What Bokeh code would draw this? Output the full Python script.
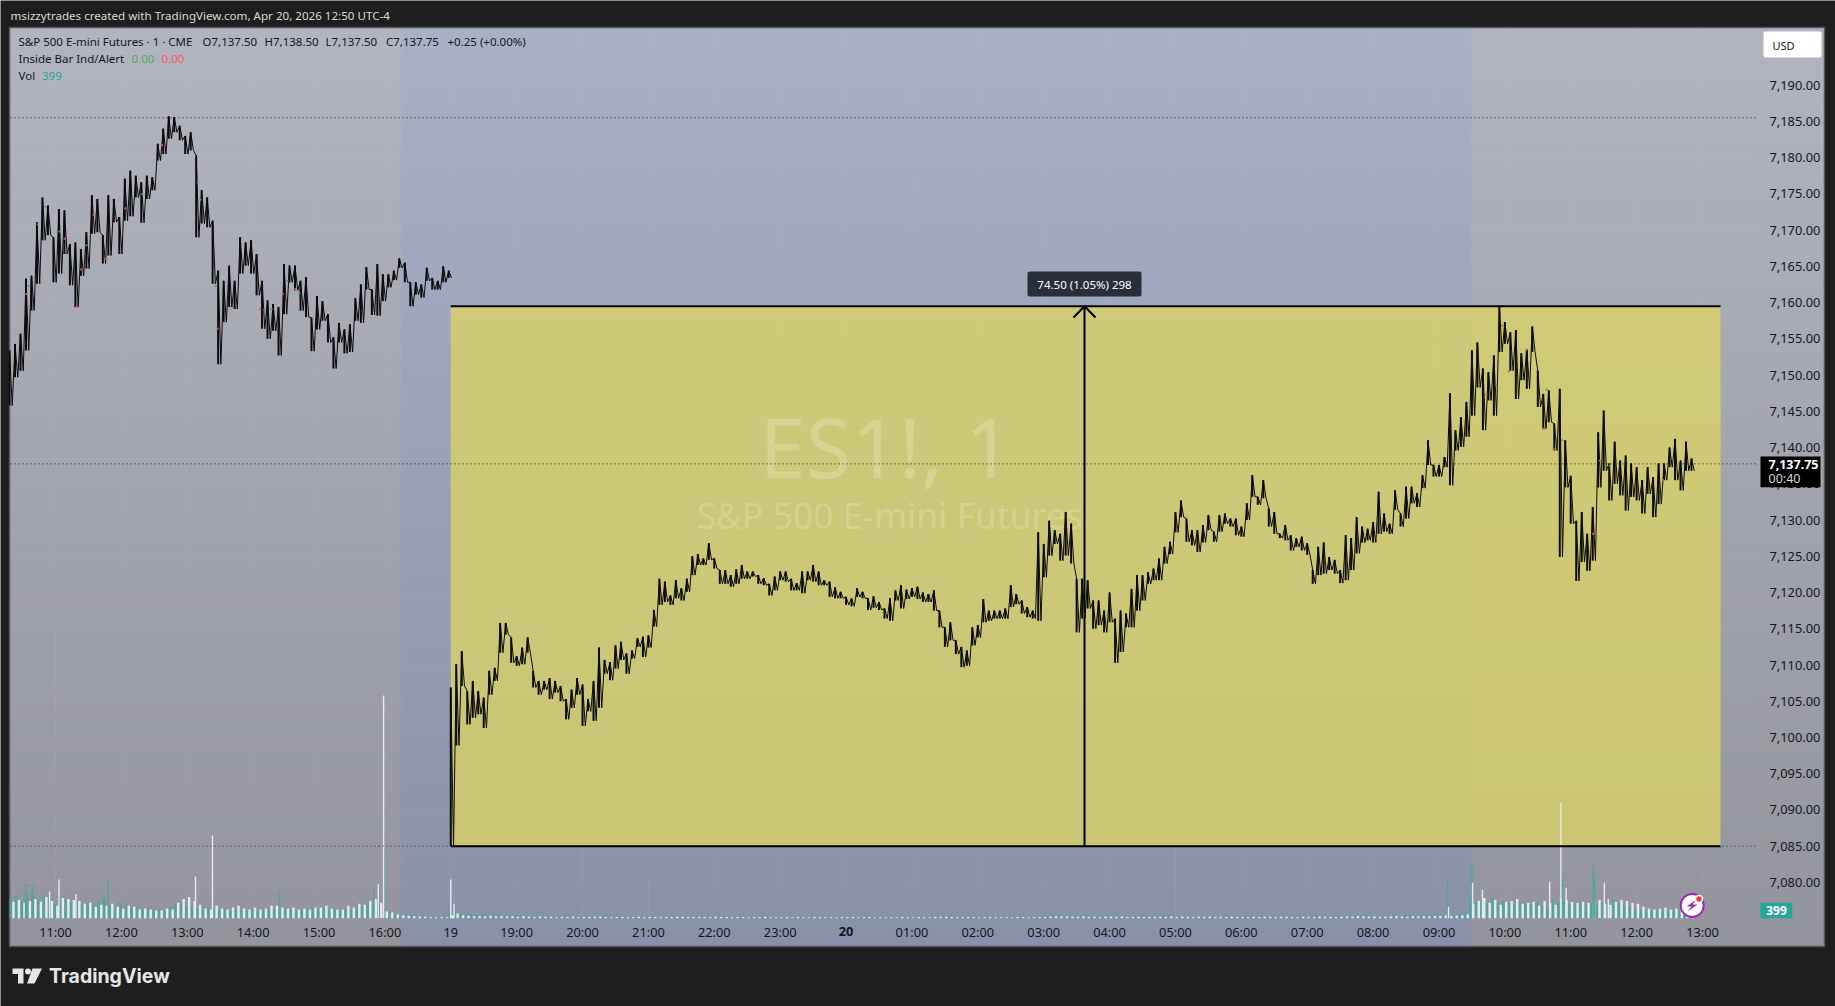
import numpy as np
from bokeh.plotting import figure
from bokeh.models import Range1d, LinearAxis, FixedTicker, NumeralTickFormatter
from bokeh.core.properties import value
from bokeh.embed import file_html
from bokeh.resources import INLINE

# ---------- data ----------
price_ticks = [7080 + 5 * k for k in range(23)]
time_ticks = [0, 1, 2, 3, 4, 5, 6, 7, 8, 9, 10, 11, 13, 14, 15, 16, 17, 18, 19, 20, 21, 22, 23, 24, 25]
time_labels = ["11:00", "12:00", "13:00", "14:00", "15:00", "16:00", "19", "19:00", "20:00", "21:00", "22:00", "23:00",
               "01:00", "02:00", "03:00", "04:00", "05:00", "06:00", "07:00", "08:00", "09:00", "10:00", "11:00", "12:00", "13:00"]

high_prev = [7153.4, 7154.3, 7155.7, 7163.3, 7163.7, 7171.1, 7174.5, 7173.4, 7169, 7172.9, 7172.7, 7168.1, 7168.3, 7167.4, 7169.7, 7174.8, 7174.3, 7169.3, 7174.8, 7174.3, 7171.8, 7177.1, 7178.2, 7177.5, 7176.6, 7177.5, 7177.3, 7181.9, 7184, 7185.7, 7185.6, 7184.4, 7183, 7183.5, 7180.3, 7175.5, 7174.5, 7171.3, 7164.4, 7163, 7165.1, 7163, 7169, 7168.3, 7168.6, 7166.7, 7163, 7160.3, 7159.8, 7159.4, 7165.3, 7165.1, 7165.1, 7163, 7163.5,
             7157.9, 7160.9, 7160.2, 7158.4, 7155.2, 7157.2, 7156.3, 7157, 7160.6, 7162.5, 7164.9, 7161.8, 7165.3, 7163.9, 7163.9, 7164.4, 7166.1, 7165.5, 7162.8, 7162.8, 7162.5, 7164.8, 7163.4, 7163, 7165, 7164.4]
low_prev = [7145.8, 7149.7, 7150.6, 7153.4, 7158.9, 7162.6, 7168.6, 7169.3, 7162.8, 7164, 7166.7, 7162.4, 7159.4, 7163.7, 7164.7, 7169.5, 7169.7, 7165.4, 7166.5, 7171.1, 7166.7, 7171.3, 7171.9, 7174.5, 7171, 7174.3, 7175.5, 7179.6, 7180.5, 7182.6, 7183.5, 7182.4, 7180.5, 7181, 7169, 7170.9, 7170.4, 7162.6, 7151.5, 7157.3, 7159.4, 7159.1, 7164, 7165.1, 7164, 7161, 7156.4, 7155, 7156.1, 7152.7, 7158.4, 7162.8, 7161.7, 7158.9, 7158,
            7153.3, 7156.3, 7157.5, 7154.5, 7150.9, 7154.5, 7153, 7153.2, 7157.5, 7157.2, 7161.8, 7158.3, 7158.2, 7160.2, 7162.1, 7163.1, 7164.8, 7162.8, 7159.5, 7161.1, 7160.7, 7163, 7161.8, 7161.8, 7162.8, 7163.4]
high_next = [7106.9, 7110.1, 7111.9, 7106.4, 7107.8, 7106.4, 7105.5, 7109.2, 7109.6, 7115.8, 7115.8, 7113.8, 7111.2, 7112.4, 7113.8, 7109.2, 7107.8, 7107.8, 7108.2, 7107.8, 7107.1, 7105.3, 7106.6, 7108.2, 7107.3, 7105.3, 7107.8, 7112.4,
             7110.7, 7110.4, 7112.7, 7113.2, 7111.6, 7112, 7113.7, 7113.9, 7114.1, 7117.6, 7121.9, 7121.5, 7119.6, 7121.7, 7120.6, 7121.9, 7125, 7125.3, 7124.7, 7126.8, 7124.7, 7123.1, 7123.1, 7122.4, 7123.2, 7123.8, 7122.9, 7122.9, 7122.4, 7122, 7121.2, 7122.2, 7122.9, 7122.9, 7121.9, 7121.3, 7122.9, 7122.9, 7123.8, 7122.9, 7121.7, 7121.5, 7120.7, 7120.1, 7119.4, 7119.2, 7120.6, 7120.1, 7119.2, 7119.5, 7118.7, 7117.8, 7119.2, 7120.3, 7121,
             7120.4, 7120.6, 7120.8, 7120, 7119.8, 7120.3, 7117.5, 7115.2, 7115.9, 7113.4, 7112.5, 7112, 7115.2, 7115.5, 7119.1, 7117.5, 7117.5, 7117.5, 7117.8, 7121, 7119.8, 7118.9, 7118, 7117.5, 7128.3, 7126.7, 7129.9, 7128.6, 7128.1, 7131.1, 7129.5, 7121.9, 7121.9, 7121.7, 7118.9, 7118.9, 7117.5, 7120, 7116.4, 7117.5, 7117.1, 7120.5, 7122.4, 7122.4, 7122.8, 7123.3, 7124.7, 7126.3, 7127, 7131.1, 7132.7, 7130.2, 7128.6, 7128.6,
             7129.3, 7130.7, 7128.4, 7130.7, 7130.9, 7130.2, 7130.2, 7129.1, 7132.3, 7136.2, 7133.2, 7135.5, 7131.6, 7131.1, 7128.1, 7129.3, 7127.9, 7127.5, 7127.7, 7126.8, 7123.1, 7126.3, 7126.9, 7124.9, 7124.5, 7123.1, 7127.9, 7127.5, 7130.4, 7129.1, 7128.8, 7129.7, 7133.9, 7130.9, 7129.5, 7134.1, 7130.9, 7134.6, 7134.6, 7133.7, 7136.2, 7141, 7137.6, 7137.6, 7138.7, 7147.5, 7142.4, 7144.2, 7146.3,
             7153.4, 7154.5, 7150.9, 7150.4, 7152.7, 7159.4, 7157.3, 7155.9, 7156.2, 7153, 7153.6, 7156.7, 7150.6, 7147.4, 7147.9, 7143.3, 7148.1, 7141, 7136.1, 7129.9, 7131.1, 7128.1, 7131.8, 7142.1, 7145.1, 7137.8, 7140.8, 7138.2, 7138.9, 7137.8, 7137.3, 7135.5, 7137.3, 7135.9, 7137.8, 7137.8, 7140, 7141.2, 7138.2, 7140.8, 7138.5]
low_next = [7085, 7098.9, 7107.1, 7101.8, 7102.7, 7103.2, 7101.3, 7105.9, 7107.8, 7111.7, 7114.2, 7110.3, 7109.9, 7110.1, 7111.7, 7106.9, 7105.9, 7106.6, 7105.3, 7106.2, 7105, 7102.5, 7104.1, 7105.9, 7101.6, 7103.6, 7102.3, 7104.1,
            7108.8, 7107.9, 7109.5, 7110.7, 7108.8, 7110.9, 7112.5, 7111.1, 7112.4, 7115.3, 7118.3, 7118.7, 7118.3, 7119.2, 7118.9, 7120.1, 7122.4, 7123.8, 7123.8, 7124.5, 7123.3, 7121.2, 7121.2, 7120.8, 7121.2, 7121.9, 7121.9, 7122.2, 7121.2, 7121, 7119.6, 7120.3, 7121.7, 7121.5, 7120.3, 7120.3, 7119.9, 7121.7, 7121.5, 7121, 7121, 7119.4, 7119.2, 7119.2, 7118.3, 7118.1, 7119.4, 7119.2, 7117.6, 7117.9, 7117.6, 7116.4, 7116.1, 7118.9, 7117.8,
            7119.1, 7119.4, 7119.1, 7118.7, 7118.7, 7117.5, 7115.2, 7112.5, 7113.4, 7111.5, 7109.7, 7109.9, 7112.7, 7113.8, 7115.9, 7116.1, 7116.4, 7116.4, 7116.4, 7118, 7118.4, 7117.1, 7116.6, 7116.4, 7116.1, 7122.1, 7125.1, 7126.7, 7124.4, 7125.1, 7124, 7114.5, 7116.4, 7117.8, 7115, 7115.5, 7114.5, 7115.9, 7110.3, 7111.8, 7115.2, 7115.2, 7117.5, 7118.9, 7121.2, 7121.7, 7121.7, 7124, 7125.3, 7128.3, 7130.4, 7127, 7126.5, 7125.6,
            7126.9, 7128.6, 7127, 7128.4, 7129.5, 7129.1, 7127.9, 7127.7, 7130, 7133.2, 7132.1, 7133, 7129.1, 7128.1, 7127.5, 7127.2, 7125.8, 7126.3, 7125.8, 7125.2, 7121.2, 7122.4, 7122.6, 7123.1, 7122.6, 7121.3, 7121.7, 7123.1, 7125.4, 7126.9, 7127.2, 7126.9, 7128.1, 7128.4, 7128.1, 7131.4, 7129.1, 7130.2, 7132.3, 7131.8, 7134.4, 7137.6, 7136, 7136, 7137.3, 7134.8, 7139.6, 7140.1, 7141.5,
            7144.4, 7148.3, 7142.4, 7146.5, 7144.4, 7153.2, 7154.3, 7150.6, 7146.7, 7149.3, 7148.1, 7153.2, 7145.6, 7142.6, 7143.5, 7139.6, 7124.9, 7134.5, 7129.5, 7121.6, 7124.2, 7123, 7124.4, 7134.5, 7136.8, 7132.7, 7135, 7133.4, 7131.3, 7133.2, 7132.7, 7130.9, 7133.6, 7130.4, 7132.2, 7135.5, 7137.3, 7135.5, 7134.1, 7136.8, 7136.8]

vol_up_prev = [1000, 1150, 850, 1250, 1200, 1000, 1200, 1150, 750, 950, 1000, 800, 900, 650, 800, 700, 900, 1100, 650, 600,
               800, 700, 550, 600, 450, 550, 400, 450, 400, 550, 800, 750, 650, 600, 500, 450, 600, 550, 450, 500,
               400, 500, 450, 400, 450, 400, 450, 500, 450, 450, 500, 450, 400, 500, 550, 600, 500, 550, 450, 500,
               400, 500, 450, 550, 600, 800, 700, 650, 600, 350, 250, 200, 150, 120, 100, 80, 100, 80, 60, 80, 100]
vol_down_prev = [850, 950, 800, 900, 1000, 850, 1100, 900, 650, 1050, 1000, 950, 900, 750, 800, 600, 700, 650, 750, 600,
                 500, 650, 600, 450, 500, 450, 400, 400, 500, 450, 800, 1000, 1100, 900, 700, 500, 450, 650, 500, 450,
                 550, 650, 500, 450, 550, 450, 500, 650, 650, 550, 500, 550, 450, 500, 450, 550, 550, 650, 500, 450,
                 450, 650, 550, 750, 700, 900, 1000, 800, 350, 300, 200, 150, 120, 100, 90, 80, 60, 50, 60, 50, 70]
vol_up_next = [300, 500, 300, 200, 250, 180, 150, 200, 150, 200, 150, 120, 100, 150, 120, 100, 130, 90, 110, 80,
               100, 90, 120, 80, 100, 90, 110, 130, 100, 90, 80, 100, 70, 90, 110, 80, 100, 90, 70, 80,
               90, 110, 100, 80, 70, 90, 100, 80, 110, 90, 100, 80, 90, 70, 60, 80, 70, 90, 80, 60,
               70, 80, 60, 90, 70, 60, 80, 70, 60, 70, 60, 80, 70, 90, 60, 70, 80, 60, 70, 60,
               70, 60, 80, 70, 60, 90, 70, 60, 80, 100, 110, 90, 80, 70, 90, 80, 60, 70, 80, 70,
               60, 70, 60, 80, 70, 60, 70, 80, 90, 110, 150, 120, 130, 110, 100, 130, 100, 120, 90, 110,
               120, 100, 130, 90, 100, 110, 90, 100, 120, 110, 100, 130, 90, 110, 100, 90, 120, 100, 110, 90,
               100, 90, 110, 100, 90, 80, 100, 90, 110, 100, 90, 100, 110, 90, 80, 110, 100, 90, 120, 110,
               100, 90, 110, 130, 120, 150, 130, 110, 120, 100, 110, 130, 150, 130, 110, 140, 120, 150, 130, 150,
               160, 190, 150, 170, 200, 300, 1000, 850, 950, 750, 1100, 850, 900, 800, 700, 850,
               750, 700, 800, 650, 650, 950, 850, 900, 700, 750,
               800, 700, 750, 650, 800, 850, 950, 800, 650, 600, 500, 450, 400, 380, 420, 400, 360, 380, 420, 400, 450]
vol_down_next = [150, 250, 150, 120, 100, 110, 90, 120, 100, 110, 90, 100, 70, 100, 80, 60, 90, 70, 80, 50,
                 70, 60, 80, 50, 60, 70, 80, 90, 60, 50, 60, 70, 50, 60, 80, 50, 70, 60, 50, 60,
                 60, 80, 70, 50, 60, 70, 60, 50, 80, 60, 70, 50, 60, 50, 40, 60, 50, 70, 50, 40,
                 50, 60, 40, 60, 50, 40, 60, 50, 40, 50, 40, 60, 50, 60, 40, 50, 60, 40, 50, 40,
                 50, 40, 60, 50, 40, 60, 50, 40, 60, 70, 80, 60, 50, 50, 60, 50, 40, 50, 60, 50,
                 40, 50, 40, 60, 50, 40, 50, 60, 60, 80, 100, 90, 90, 80, 70, 90, 70, 80, 60, 80,
                 80, 70, 90, 60, 70, 80, 60, 70, 80, 80, 70, 90, 60, 80, 70, 60, 80, 70, 80, 60,
                 70, 60, 80, 70, 60, 50, 70, 60, 80, 70, 60, 70, 80, 60, 50, 80, 70, 60, 90, 80,
                 70, 60, 80, 90, 80, 110, 90, 80, 90, 70, 80, 90, 110, 90, 80, 100, 90, 110, 90, 110,
                 120, 150, 110, 130, 150, 200, 750, 900, 1050, 800, 950, 700, 850, 900, 1000, 750,
                 800, 850, 650, 900, 800, 700, 1050, 950, 850, 800,
                 850, 800, 900, 950, 750, 700, 850, 950, 900, 800, 750, 600, 500, 450, 500, 550, 450, 500, 600, 550, 400]

spike_down_t = [-0.09, 0.053, 0.31, 2.125, 2.383, 4.90, 4.98, 6.0, 6.05, 21.145, 21.51, 21.66, 22.68, 22.85, 22.93, 23.51, 23.57]
spike_down_v = [1390, 2010, 1250, 2170, 4300, 1780, 11580, 2010, 745, 600, 1840, 1490, 1900, 6000, 1580, 1840, 1000]
spike_up_t = [-0.455, -0.35, 0.8, 3.4, 4.83, 4.99, 21.13, 21.5, 22.87, 23.34, 23.36]
spike_up_v = [1750, 1700, 1900, 1440, 1610, 3350, 2080, 3000, 2180, 2740, 2220]

red_t = [0.32, -0.44, 0.14, 0.39, 0.58, 0.77, 1.06, 1.62, 2.46, 3.11, 3.45, 3.64, 21.96, 22.06, 21.87, 21.72, 22.59, 22.74, 23.34, 23.44, 24.4]
red_p = [7159.4, 7161.2, 7168.8, 7164.6, 7172.1, 7166, 7173, 7181.7, 7156.4, 7159.1, 7161.2, 7161.9, 7156.8, 7150.5, 7148.7, 7147.4, 7142.6, 7139.8, 7128.1, 7138.2, 7135.5]
green_t = [-0.15, -0.41, -0.27, 0.06, 0.36, 0.47, 1.32, 2.16, 2.2, 2.43, 3.17, 3.28, 3.52, 3.7, 22.63, 22.33, 22.87, 23.59]
green_p = [7173.2, 7162.3, 7170.8, 7169.8, 7165.1, 7167.9, 7175, 7176.6, 7174.2, 7162.3, 7159, 7159.1, 7163, 7161.3, 7148, 7153.5, 7141, 7137.5]

range_low, range_high = 7085, 7159.5
prior_high, last_price = 7185.5, 7137.75

# ---------- scales (hours since 11:00, sessions joined) ----------
def hx(x): return (x - 55) / 65.88
def py(y): return 7085 + (845.7 - y) / 7.248
VOL_PX = 52.0
STEP = 1 / 12

p = figure(width=1835, height=1006, x_range=Range1d(hx(0), hx(1835)), y_range=Range1d(py(1006), py(0)),
           x_axis_type=None, y_axis_type=None, toolbar_location=None, output_backend="svg", min_border=0,
           background_fill_color="#1e1e1e", border_fill_color="#1e1e1e", outline_line_color=None)
p.grid.visible = False
p.extra_y_ranges = {"vol": Range1d((917.7 - 1006) * VOL_PX, 917.7 * VOL_PX)}

PANE = (9, 27, 1824, 946)

# background gradients: each strip runs down to the pane bottom, so no seams appear
def strips(x0, x1, top, bottom, n=70):
    ys = np.linspace(PANE[1], PANE[3], n, endpoint=False)
    cols = []
    for y in ys:
        f = (y - PANE[1]) / (PANE[3] - PANE[1])
        c = [int(round(a + (b - a) * f)) for a, b in zip(top, bottom)]
        cols.append("#%02x%02x%02x" % tuple(c))
    p.quad(left=[hx(x0)] * n, right=[hx(x1)] * n, top=[py(y) for y in ys], bottom=[py(PANE[3])] * n,
           fill_color=cols, line_color=None)

strips(PANE[0], PANE[2], (177, 180, 191), (147, 148, 155))
strips(400.9, 1470.5, (168, 176, 198), (137, 145, 170))

# pane border
p.quad(left=[hx(PANE[0])], right=[hx(PANE[2])], top=[py(PANE[1])], bottom=[py(PANE[3])],
       fill_color=None, line_color="#55565a", line_width=1.5)

# faint grid
p.segment(x0=[hx(10)] * len(price_ticks), x1=[hx(1758)] * len(price_ticks), y0=price_ticks, y1=price_ticks,
          line_color="#ffffff", line_alpha=0.05, line_width=1)
all_t = time_ticks + [12]
p.segment(x0=all_t, x1=all_t, y0=[py(28)] * len(all_t), y1=[py(921)] * len(all_t),
          line_color="#ffffff", line_alpha=0.05, line_width=1)

# axes drawn in the pane
yax = LinearAxis(ticker=FixedTicker(ticks=price_ticks), formatter=NumeralTickFormatter(format="0,0.00"),
                 fixed_location=hx(1757))
xax = LinearAxis(ticker=FixedTicker(ticks=time_ticks), major_label_overrides=dict(zip(time_ticks, time_labels)),
                 fixed_location=py(912))
xax2 = LinearAxis(ticker=FixedTicker(ticks=[12]), major_label_overrides={12: "20"}, fixed_location=py(912))
for ax in (yax, xax, xax2):
    ax.axis_line_color = None
    ax.major_tick_line_color = None
    ax.minor_tick_line_color = None
    ax.major_label_text_font = "Noto Sans"
    ax.major_label_text_font_size = "12.8px"
    ax.major_label_text_color = "#131722"
yax.major_label_standoff = 6
xax.major_label_standoff = 4
xax2.major_label_standoff = 8
xax2.major_label_text_font_style = "bold"
p.add_layout(yax, "right")
p.add_layout(xax, "below")
p.add_layout(xax2, "below")

# measured range box
box_right = hx(1720)
p.quad(left=[6.0], right=[box_right], top=[range_high], bottom=[range_low], fill_color="#dcd464", fill_alpha=0.77, line_color=None)

def txt(x, y, s, color="#131722", size=12, font="Noto Sans", bold=False, align="left", alpha=1.0, level="glyph"):
    p.text(x=[hx(x)], y=[py(y)], text=[s], text_color=color, text_font=value(font), text_font_size=f"{size}px",
           text_font_style="bold" if bold else "normal", text_align=align, text_baseline="middle",
           text_alpha=alpha, level=level)

def round_box(x0, x1, y0, y1, color):
    p.quad(left=[hx(x0 + 2)], right=[hx(x1 - 2)], top=[py(y0 + 2)], bottom=[py(y1 - 2)], fill_color=color,
           line_color=color, line_width=4, line_join="round", level="overlay")

# watermark
txt(759, 445, "ES1!, 1", "#ffffff", 83, alpha=0.2)
txt(696, 514, "S&P 500 E-mini Futures", "#ffffff", 35.5, alpha=0.2)

# volume
tp = -0.698 + np.arange(len(vol_up_prev)) * STEP
tn = 6.0 + np.arange(len(vol_up_next)) * STEP
vt = np.concatenate([tp + 2.6 / 65.88, tn])
off = 1.35 / 65.88
bw = 2.4 / 65.88
p.vbar(x=vt - off, top=vol_up_prev + vol_up_next, bottom=0, width=bw, fill_color="#52a59d", line_color=None, y_range_name="vol")
p.vbar(x=vt + off, top=vol_down_prev + vol_down_next, bottom=0, width=bw, fill_color="#e8e9ec", line_color=None, y_range_name="vol")
p.vbar(x=spike_up_t, top=spike_up_v, bottom=0, width=1.4 / 65.88, fill_color="#52a59d", line_color=None, y_range_name="vol")
p.vbar(x=spike_down_t, top=spike_down_v, bottom=0, width=1.4 / 65.88, fill_color="#e8e9ec", line_color=None, y_range_name="vol")

# dotted price lines
for level_price in (prior_high, last_price, range_low):
    p.segment(x0=[hx(10)], x1=[hx(1757)], y0=[level_price], y1=[level_price], line_color="#15161a",
              line_width=1, line_dash="1 3")

# range box rules and arrow
for rule in (range_high, range_low):
    p.segment(x0=[6.0], x1=[box_right], y0=[rule], y1=[rule], line_color="#000000", line_width=2)
arrow_x = hx(1084)
p.segment(x0=[arrow_x], x1=[arrow_x], y0=[range_low], y1=[range_high], line_color="#000000", line_width=2)
p.line(x=[hx(1073), arrow_x, hx(1095)], y=[py(317), range_high, py(317)], line_color="#000000", line_width=2)

# price bars
def bars(t, hi, lo):
    hi, lo = np.array(hi), np.array(lo)
    p.segment(x0=t, x1=t, y0=lo, y1=hi, line_color="#0b0b0b", line_width=2.0)
    xs = np.ravel(np.column_stack([t, t + STEP / 2]))
    ys = np.ravel(np.column_stack([hi, lo]))
    p.line(x=xs, y=ys, line_color="#0b0b0b", line_width=1.0)
bars(tp, high_prev, low_prev)
bars(tn, high_next, low_next)
p.scatter(x=red_t, y=red_p, marker="square", size=2, fill_color="#f44d4d", line_color=None)
p.scatter(x=green_t, y=green_p, marker="square", size=2, fill_color="#3fae5a", line_color=None)

# tooltip on the measure
round_box(1027, 1141, 271, 296, "#2a2e39")
txt(1084, 283.5, "74.50 (1.05%) 298", "#ffffff", 11.5, align="center", level="overlay")

# USD button
round_box(1763, 1821, 31, 57, "#ffffff")
txt(1772, 44.5, "USD", "#131722", 11, level="overlay")

# last price tag
p.quad(left=[hx(1760)], right=[hx(1820)], top=[py(456)], bottom=[py(486.7)], fill_color="#000000", line_color=None, level="overlay")
txt(1768, 463.8, "7,137.75", "#ffffff", 12.5, bold=True, level="overlay")
txt(1768, 477.8, "00:40", "#d6d6d6", 12.5, level="overlay")

# volume tag
p.quad(left=[hx(1760)], right=[hx(1791.7)], top=[py(902.3)], bottom=[py(917.7)], fill_color="#26a69a", line_color=None, level="overlay")
txt(1776, 910.3, "399", "#ffffff", 12, bold=True, align="center", level="overlay")

# badge
p.scatter(x=[hx(1691.7)], y=[py(905)], marker="circle", size=23, fill_color="#ffffff", line_color="#9c27b0", line_width=2, level="overlay")
p.patch(x=[hx(v) for v in (1696, 1686, 1691, 1687, 1697, 1692)], y=[py(v) for v in (899, 906, 906, 911, 904, 904)],
        fill_color="#9c27b0", line_color=None, level="overlay")
p.scatter(x=[hx(1698.5)], y=[py(898.5)], marker="circle", size=7, fill_color="#f23645", line_color="#ffffff", line_width=1.5, level="overlay")

# legend
txt(18, 41, "S&P 500 E-mini Futures · 1 · CME", size=11.5)
txt(202, 41, "O7,137.50", size=11.5)
txt(264, 41, "H7,138.50", size=11.5)
txt(325, 41, "L7,137.50", size=11.5)
txt(385.5, 41, "C7,137.75", size=11.5)
txt(447, 41, "+0.25 (+0.00%)", size=11.5)
txt(18, 58.2, "Inside Bar Ind/Alert", size=11.5)
txt(131, 58.2, "0.00", "#4caf50", 11.5)
txt(161, 58.2, "0.00", "#f55a5a", 11.5)
txt(18, 75.2, "Vol", size=11.5)
txt(41.5, 75.2, "399", "#26a69a", 11.5)

# header and footer
txt(10, 15, "msizzytrades created with TradingView.com, Apr 20, 2026 12:50 UTC-4", "#d8d8d8", 11.6)
logo = "#e6e6e6"
p.patch(x=[hx(v) for v in (12, 23, 23, 17.5, 17.5, 12)], y=[py(v) for v in (968, 968, 983, 983, 973.5, 973.5)], fill_color=logo, line_color=None)
p.patch(x=[hx(v) for v in (32, 41.5, 34, 26.5)], y=[py(v) for v in (968, 968, 983, 983)], fill_color=logo, line_color=None)
p.scatter(x=[hx(27.5)], y=[py(971)], marker="circle", size=6, fill_color=logo, line_color=None)
txt(48.5, 975.5, "TradingView", "#e6e6e6", 19.5, font="Inter", bold=True)

open("out.html", "w").write(file_html(p, INLINE))
